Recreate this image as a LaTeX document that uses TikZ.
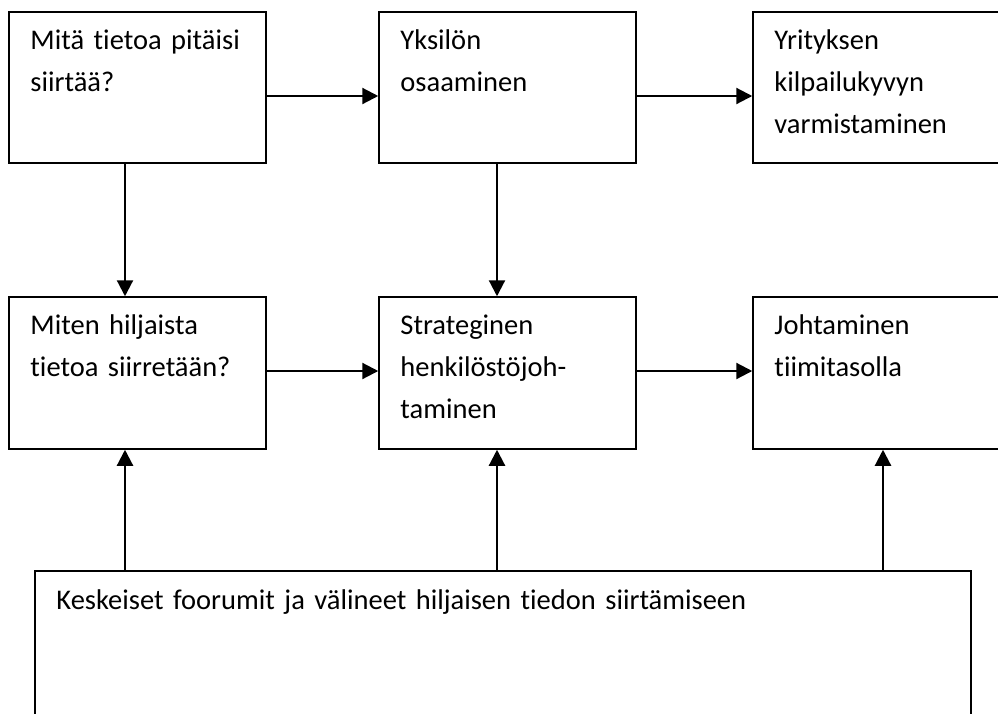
\documentclass[tikz,border=0pt]{standalone}
\usepackage{fontspec}
\setmainfont{Carlito}[RawFeature=-liga]
\usetikzlibrary{arrows.meta,calc}
\begin{document}
\begin{tikzpicture}[x=1pt,y=-1pt,
  box/.style={draw, line width=1.5pt, inner sep=0pt},
  lbl/.style={anchor=base west, inner sep=0pt, align=left, text width=260pt,
              font=\fontsize{28.5}{42}\selectfont},
  arr/.style={line width=2.2pt, -{Triangle[length=16pt,width=16pt]}}]
\clip (0,0) rectangle (998,713);
\fill[white] (0,0) rectangle (998,713);

% boxes
\node[box, minimum width=257pt, minimum height=151pt] (b1) at (137.5,87.5) {};
\node[box, minimum width=257pt, minimum height=151pt] (b2) at (507.5,87.5) {};
\node[box, minimum width=257pt, minimum height=151pt] (b3) at (881.5,87.5) {};
\node[box, minimum width=257pt, minimum height=152pt] (b4) at (137.5,373) {};
\node[box, minimum width=257pt, minimum height=152pt] (b5) at (507.5,373) {};
\node[box, minimum width=257pt, minimum height=152pt] (b6) at (881.5,373) {};
\node[box, minimum width=936pt, minimum height=189pt] (bot) at (503,665.5) {};

% texts
\node[lbl] (t1) at ($(b1.north west)+(22,38)$) {Mitä tietoa pitäisi\\siirtää?};
\node[lbl] (t2) at ($(b2.north west)+(22,38)$) {Yksilön\\osaaminen};
\node[lbl] (t3) at ($(b3.north west)+(22,38)$) {Yrityksen\\kilpailukyvyn\\varmistaminen};
\node[lbl] (t4) at ($(b4.north west)+(22,38)$) {Miten hiljaista\\tietoa siirretään?};
\node[lbl] (t5) at ($(b5.north west)+(22,38)$) {Strateginen\\henkilöstöjoh-\\taminen};
\node[lbl] (t6) at ($(b6.north west)+(22,38)$) {Johtaminen\\tiimitasolla};
\node[lbl, text width=900pt] (t7) at ($(bot.north west)+(22,39)$) {Keskeiset foorumit ja välineet hiljaisen tiedon siirtämiseen};

% guide coordinates for connector positions
\coordinate (r1) at (0,96);
\coordinate (r2) at (0,371);
\coordinate (c1) at (125,0);
\coordinate (c2) at (497,0);
\coordinate (c3) at (883,0);

% horizontal connectors
\draw[arr] (b1.east |- r1) -- (b2.west |- r1);
\draw[arr] (b2.east |- r1) -- (b3.west |- r1);
\draw[arr] (b4.east |- r2) -- (b5.west |- r2);
\draw[arr] (b5.east |- r2) -- (b6.west |- r2);

% vertical connectors
\draw[arr] (b1.south -| c1) -- (b4.north -| c1);
\draw[arr] (b2.south -| c2) -- (b5.north -| c2);
\draw[arr] (bot.north -| c1) -- (b4.south -| c1);
\draw[arr] (bot.north -| c2) -- (b5.south -| c2);
\draw[arr] (bot.north -| c3) -- (b6.south -| c3);
\end{tikzpicture}
\end{document}
